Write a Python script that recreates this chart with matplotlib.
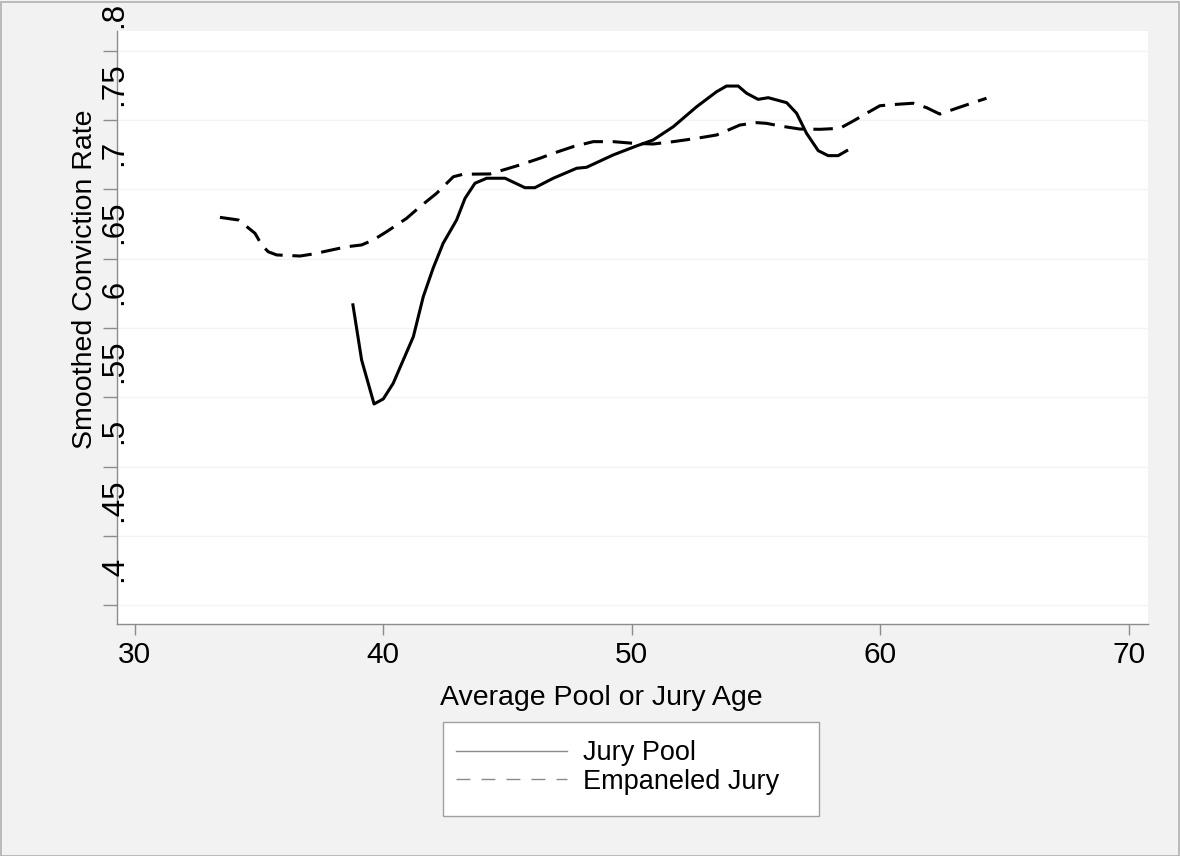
import matplotlib
matplotlib.use("Agg")
import matplotlib.pyplot as plt
from matplotlib.lines import Line2D
from matplotlib.patches import Rectangle
from matplotlib.transforms import blended_transform_factory, ScaledTranslation

plt.rcParams['font.family'] = ['Liberation Sans', 'DejaVu Sans']
plt.rcParams['lines.scale_dashes'] = False

# Data
pool_age = [38.77, 39.13, 39.63, 40.00, 40.40, 41.21, 41.61, 42.01, 42.41, 42.95, 43.29,
            43.69, 44.16, 44.90, 45.70, 46.10, 46.84, 47.78, 48.18, 49.25, 50.19, 50.86,
            51.67, 52.61, 53.41, 53.81, 54.28, 54.62, 55.08, 55.49, 56.23, 56.63, 57.03,
            57.50, 57.90, 58.30, 58.70]
pool_rate = [0.6178, 0.5769, 0.5452, 0.5488, 0.5601, 0.5937, 0.6226, 0.6433, 0.6611, 0.6779, 0.6935,
             0.7044, 0.7080, 0.7080, 0.7012, 0.7012, 0.7080, 0.7152, 0.7159, 0.7248, 0.7313, 0.7356,
             0.7452, 0.7596, 0.7704, 0.7745, 0.7745, 0.7693, 0.7649, 0.7661, 0.7625, 0.7549, 0.7404,
             0.7279, 0.7243, 0.7243, 0.7284]

jury_age = [33.43, 34.17, 34.51, 34.84, 35.11, 35.37, 35.71, 36.65, 37.18, 37.72, 38.53,
            39.13, 39.60, 40.14, 40.94, 41.48, 42.15, 42.82, 43.22, 44.29, 44.83, 45.50,
            46.30, 46.84, 47.64, 48.45, 49.25, 50.06, 50.86, 51.67, 52.61, 53.41, 53.95,
            54.35, 55.02, 55.42, 55.96, 56.76, 57.57, 58.37, 58.91, 59.45, 59.98, 60.65,
            61.32, 61.86, 62.39, 63.07, 63.73, 64.27]
jury_rate = [0.6798, 0.6779, 0.6731, 0.6683, 0.6599, 0.6550, 0.6527, 0.6519, 0.6534, 0.6555, 0.6586,
             0.6599, 0.6635, 0.6695, 0.6791, 0.6875, 0.6972, 0.7091, 0.7109, 0.7111, 0.7140, 0.7176,
             0.7224, 0.7260, 0.7308, 0.7344, 0.7344, 0.7332, 0.7327, 0.7344, 0.7368, 0.7392, 0.7433,
             0.7464, 0.7481, 0.7476, 0.7457, 0.7435, 0.7433, 0.7440, 0.7493, 0.7549, 0.7603, 0.7613,
             0.7621, 0.7589, 0.7543, 0.7585, 0.7625, 0.7657]

x_ticks = [30, 40, 50, 60, 70]
x_labels = ['30', '40', '50', '60', '70']
y_ticks = [0.4, 0.45, 0.5, 0.55, 0.6, 0.65, 0.7, 0.75, 0.8]
y_labels = ['.4', '.45', '.5', '.55', '.6', '.65', '.7', '.75', '.8']
series_names = ['Jury Pool', 'Empaneled Jury']

W, H = 1180, 856
fig = plt.figure(figsize=(W / 100, H / 100), dpi=100, facecolor='#f2f2f2')
fig.patches.append(Rectangle((0.5 / W, 0.5 / H), 1 - 2 / W, 1 - 2 / H, transform=fig.transFigure,
                             fill=False, edgecolor='#b0b0b0', linewidth=1.2))

L, R, T, B = 117.3, 1148.3, 31.0, 624.3
ax = fig.add_axes([L / W, 1 - B / H, (R - L) / W, (B - T) / H])
ax.set_facecolor('white')
ax.set_xlim(29.30, 70.78)
ax.set_ylim(0.3863, 0.8142)

for s in ['top', 'right']:
    ax.spines[s].set_visible(False)
for s in ['left', 'bottom']:
    ax.spines[s].set_color('#8c8c8c')
    ax.spines[s].set_linewidth(1.0)

ax.set_yticks(y_ticks)
ax.set_yticklabels([])
ax.tick_params(axis='y', length=10, width=1, color='#8c8c8c', direction='out')
ax.set_xticks(x_ticks)
ax.set_xticklabels(x_labels, fontsize=21.5)
ax.tick_params(axis='x', length=8, width=1, color='#8c8c8c', direction='out', pad=4)
ax.grid(axis='y', color='#f3f3f3', linewidth=1.0)
ax.set_axisbelow(True)

# rotated y tick labels (shifted up like the reference)
tr = blended_transform_factory(ax.transAxes, ax.transData) + ScaledTranslation(0.045, 0.36, fig.dpi_scale_trans)
for v, lab in zip(y_ticks, y_labels):
    ax.text(0, v, lab, transform=tr, rotation=90, rotation_mode='anchor', ha='center', va='baseline',
            fontsize=22.5, color='black')

ax.plot(pool_age, pool_rate, color='black', linewidth=2.2, solid_capstyle='butt', solid_joinstyle='round')
ax.plot(jury_age, jury_rate, color='black', linewidth=2.2, linestyle=(0, (14, 7)), dash_capstyle='butt')

fig.text(85 / W, 1 - 279 / H, 'Smoothed Conviction Rate', rotation=90, ha='center', va='center', fontsize=20.5)
fig.text(601 / W, 1 - 705 / H, 'Average Pool or Jury Age', ha='center', va='baseline', fontsize=20.5)

# legend box
fig.patches.append(Rectangle((443 / W, 1 - 816 / H), (819 - 443) / W, (816 - 722) / H,
                             transform=fig.transFigure, facecolor='white', edgecolor='#a0a0a0',
                             linewidth=1.0, zorder=0))
handles = [Line2D([], [], color='#8a8a8a', linewidth=1.0),
           Line2D([], [], color='#8a8a8a', linewidth=1.0, linestyle=(0, (10, 8)))]
leg = fig.legend(handles, series_names, loc='upper left',
                 bbox_to_anchor=(456 / W, 1 - 740 / H),
                 fontsize=19.5, frameon=False,
                 handlelength=4.1, handletextpad=0.6, borderpad=0.0, labelspacing=0.1,
                 borderaxespad=0.0)

fig.savefig('out.png', dpi=100, facecolor=fig.get_facecolor())
